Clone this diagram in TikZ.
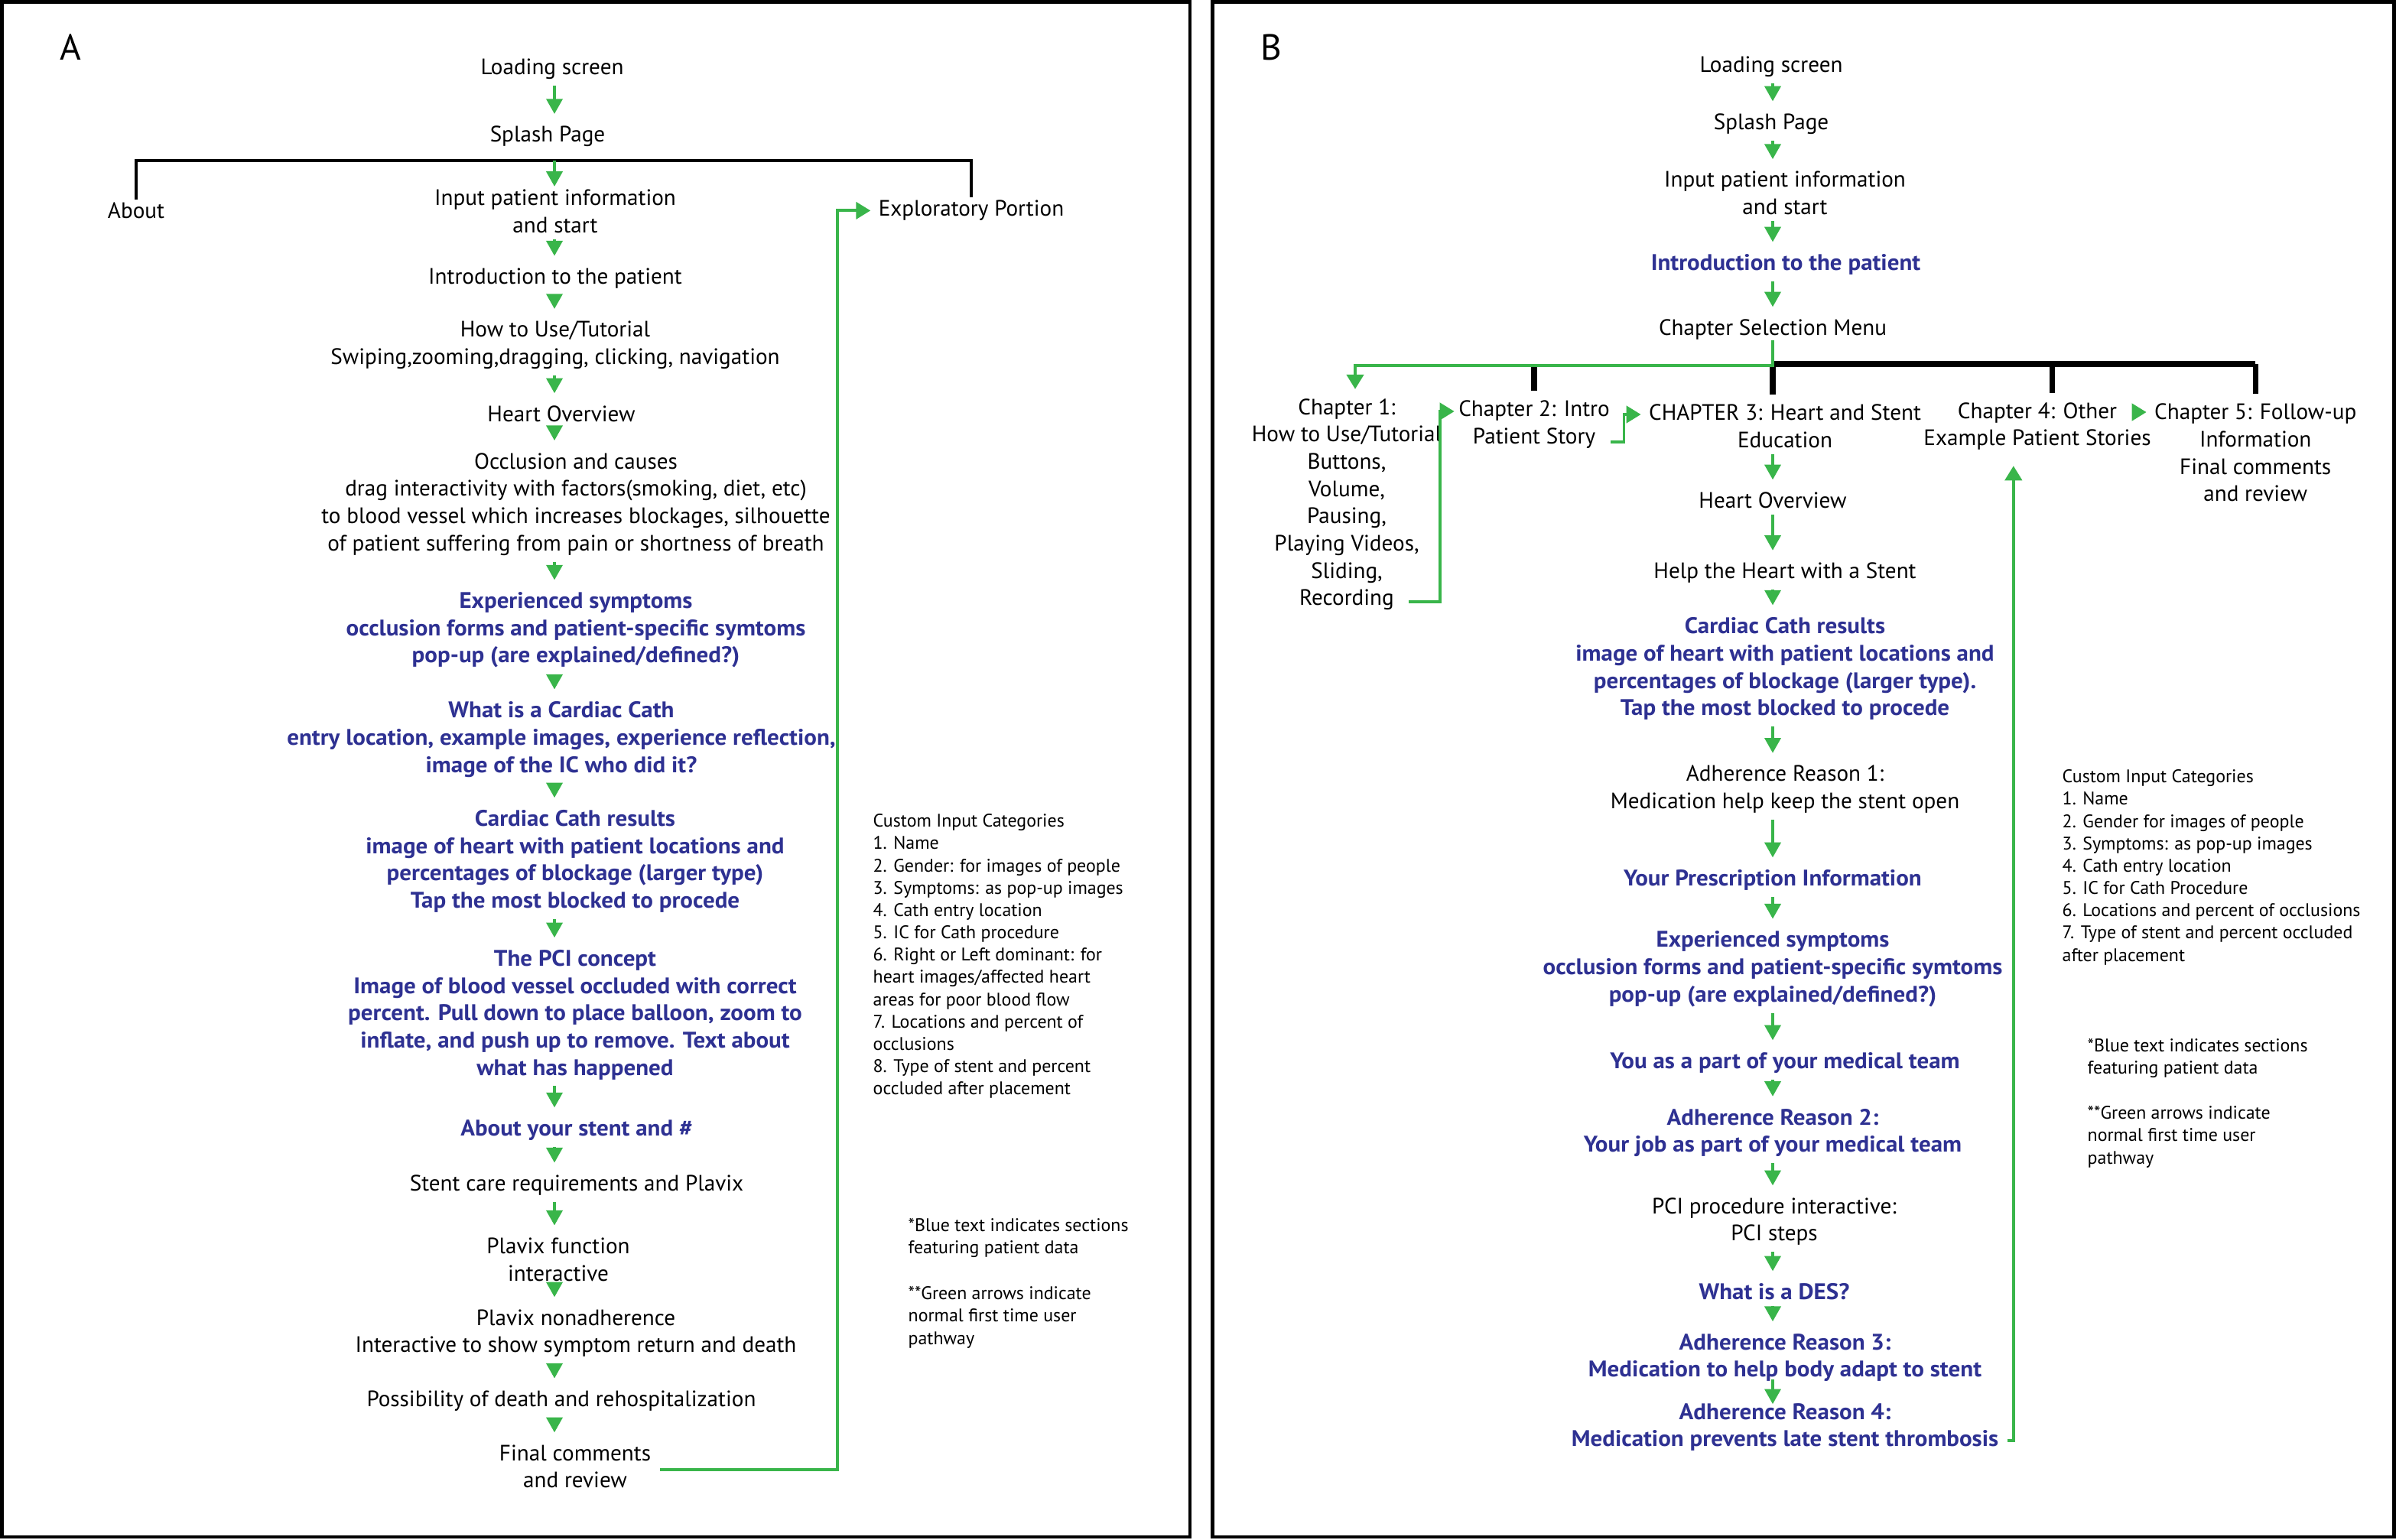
\documentclass[tikz,border=0pt]{standalone}
\usepackage{fontspec}
\setmainfont{PT Sans}[BoldFeatures={FakeStretch=1.05}]
\usetikzlibrary{arrows.meta,calc}
\definecolor{dblue}{HTML}{2E3192}
\definecolor{agreen}{HTML}{39B54A}
\begin{document}
\begin{tikzpicture}[x=0.02cm,y=-0.02cm,
  txt/.style={font=\fontsize{8.3}{10.15}\selectfont,align=center,inner sep=0pt},
  btxt/.style={font=\fontsize{8.4}{10.15}\selectfont\bfseries,text=dblue,align=center,inner sep=0pt},
  small/.style={font=\fontsize{6.8}{8.3}\selectfont,align=left,inner sep=0pt,anchor=north west},
  panel/.style={font=\fontsize{13.5}{16}\selectfont,inner sep=0pt},
  arr/.style={draw=agreen,line width=1pt,-{Triangle[width=6pt,length=5.6pt]},shorten <=2.2pt,shorten >=4.4pt},
  garr/.style={draw=agreen,line width=1.1pt,-{Triangle[width=6.3pt,length=5.4pt]},shorten >=1.4pt},
  frame/.style={draw=black,line width=1.4pt},
  brkA/.style={draw=black,line width=1.25pt},
  brkB/.style={draw=black,line width=2.1pt},
]
\useasboundingbox (0,0) rectangle (1566.5,1006.5);
% frames
\draw[frame] (1.2,1.2) rectangle (778,1005);
\draw[frame] (792.7,1.2) rectangle (1565.3,1005);
\node[panel] (labA) at (46,30.8) {A};
\node[panel] (labB) at (831,30.8) {B};

% ---------------- Panel A ----------------
\coordinate (axA) at (362.5,0);
\node[txt] (A1) at (361,45.3) {Loading screen};
\node[txt] (A2) at (358,89.3) {Splash Page};
\node[txt] (About) at (89,137.7) {About};
\node[txt] (Expl) at (635,137.7) {Exploratory Portion};
\node[txt] (A3) at (363,138.2) {Input patient information\\and start};
\node[txt] (A4) at (363,182) {Introduction to the patient};
\node[txt] (A5) at (363,225.7) {How to Use/Tutorial\\Swiping,zooming,dragging, clicking, navigation};
\node[txt] (A6) at (367,270.5) {Heart Overview};
\node[txt] (A7) at (376.5,329.6) {Occlusion and causes\\drag interactivity with factors(smoking, diet, etc)\\to blood vessel which increases blockages, silhouette\\of patient suffering from pain or shortness of breath};
\node[btxt] (A8) at (376.5,412) {Experienced symptoms\\occlusion forms and patient-specific symtoms\\pop-up (are explained/defined?)};
\node[btxt] (A9) at (367,483.5) {What is a Cardiac Cath\\entry location, example images, experience reflection,\\image of the IC who did it?};
\node[btxt] (A10) at (376,563.2) {Cardiac Cath results\\image of heart with patient locations and\\percentages of blockage (larger type)\\Tap the most blocked to procede};
\node[btxt] (A11) at (376,663.6) {The PCI concept\\Image of blood vessel occluded with correct\\percent. Pull down to place balloon, zoom to\\inflate, and push up to remove. Text about\\what has happened};
\node[btxt] (A12) at (377,739) {About your stent and \#};
\node[txt] (A13) at (377,775) {Stent care requirements and Plavix};
\node[txt] (A14) at (365,823.5) {Plavix function\\interactive};
\node[txt] (A15) at (376.5,871.8) {Plavix nonadherence\\Interactive to show symptom return and death};
\node[txt] (A16) at (367,916) {Possibility of death and rehospitalization};
\node[txt] (A17) at (376,958.9) {Final comments\\and review};

\node[small] (CatA) at (570.5,532) {Custom Input Categories\\1. Name\\2. Gender: for images of people\\3. Symptoms: as pop-up images\\4. Cath entry location\\5. IC for Cath procedure\\6. Right or Left dominant: for\\heart images/affected heart\\areas for poor blood flow\\7. Locations and percent of\\occlusions\\8. Type of stent and percent\\occluded after placement};
\node[small] (NoteA1) at (593.5,796.5) {*Blue text indicates sections\\featuring patient data};
\node[small] (NoteA2) at (593.5,841) {**Green arrows indicate\\normal first time user\\pathway};

% bracket
\coordinate (bk) at (362.5,105);
\draw[brkA] ([yshift=1pt]About.north) -- (About.north |- bk) -- (bk -| Expl.north) -- ([yshift=1pt]Expl.north);
\draw[arr,shorten <=0pt,shorten >=1pt] (bk) -- (A3.north -| bk);

\foreach \a/\b in {A1/A2,A3/A4,A4/A5,A5/A6,A6/A7,A7/A8,A8/A9,A9/A10,A10/A11,A11/A12,A12/A13,A13/A14,A14/A15,A15/A16,A16/A17}
  \draw[arr] (\a.south -| axA) -- (\b.north -| axA);

\draw[garr,shorten >=2.8pt] ($(A17.east)+(5.5,2)$) -| ($(Expl.west)+(-26.5,0)$) -- (Expl.west);

% ---------------- Panel B ----------------
\coordinate (axB) at (1159,0);
\node[txt] (B1) at (1158,43.5) {Loading screen};
\node[txt] (B2) at (1158,81) {Splash Page};
\node[txt] (B3) at (1167,126.3) {Input patient information\\and start};
\node[btxt] (B4) at (1167.5,173) {Introduction to the patient};
\node[txt] (B5) at (1159,215.4) {Chapter Selection Menu};
\node[txt] (C1) at (880.5,329.9) {Chapter 1:\\How to Use/Tutorial\\Buttons,\\Volume,\\Pausing,\\Playing Videos,\\Sliding,\\Recording};
\node[txt] (C2) at (1003,277.5) {Chapter 2: Intro\\Patient Story};
\node[txt] (C3) at (1167,278.7) {CHAPTER 3: Heart and Stent\\Education};
\node[txt] (C4) at (1332,278.7) {Chapter 4: Other\\Example Patient Stories};
\node[txt] (C5) at (1474.6,296) {Chapter 5: Follow-up\\Information\\Final comments\\and review};
\node[txt] (B6) at (1159,327) {Heart Overview};
\node[txt] (B7) at (1167,374.6) {Help the Heart with a Stent};
\node[btxt] (B8) at (1167,437.3) {Cardiac Cath results\\image of heart with patient locations and\\percentages of blockage (larger type).\\Tap the most blocked to procede};
\node[txt] (B9) at (1167,516) {Adherence Reason 1:\\Medication help keep the stent open};
\node[btxt] (B10) at (1159,575.5) {Your Prescription Information};
\node[btxt] (B11) at (1159,633.6) {Experienced symptoms\\occlusion forms and patient-specific symtoms\\pop-up (are explained/defined?)};
\node[btxt] (B12) at (1167,695) {You as a part of your medical team};
\node[btxt] (B13) at (1159,740.7) {Adherence Reason 2:\\Your job as part of your medical team};
\node[txt] (B14) at (1160,798.8) {PCI procedure interactive:\\PCI steps};
\node[btxt] (B15) at (1160,844.6) {What is a DES?};
\node[btxt] (B16) at (1167,887.8) {Adherence Reason 3:\\Medication to help body adapt to stent};
\node[btxt] (B17) at (1167,933.2) {Adherence Reason 4:\\Medication prevents late stent thrombosis};

\node[small] (CatB) at (1348,503) {Custom Input Categories\\1. Name\\2. Gender for images of people\\3. Symptoms: as pop-up images\\4. Cath entry location\\5. IC for Cath Procedure\\6. Locations and percent of occlusions\\7. Type of stent and percent occluded\\after placement};
\node[small] (NoteB1) at (1364.5,679) {*Blue text indicates sections\\featuring patient data};
\node[small] (NoteB2) at (1364.5,723) {**Green arrows indicate\\normal first time user\\pathway};

\foreach \a/\b in {B1/B2,B2/B3,B3/B4,B4/B5,C3/B6,B6/B7,B7/B8,B8/B9,B9/B10,B10/B11,B11/B12,B12/B13,B13/B14,B14/B15,B15/B16}
  \draw[arr] (\a.south -| axB) -- (\b.north -| axB);
\draw[arr,shorten <=-1pt,shorten >=-0.5pt] (B16.south -| axB) -- (B17.north -| axB);

% chapter selection tree
\coordinate (hub) at (1159,238);
\draw[brkB] (hub) -- (hub -| C5.north);
\draw[brkB] (hub -| C2.north) -- ($(C2.north)+(0,-6)$);
\draw[brkB] (hub) -- ($(hub |- C3.north)+(0,-6)$);
\draw[brkB] ($(hub -| C4.north)+(9.6,0)$) -- ($(C4.north)+(9.6,-6)$);
\draw[brkB] (hub -| C5.north) -- ($(C5.north)+(0,-6)$);
\draw[garr,shorten >=3.4pt] (B5.south -| hub) -- ($(hub)+(0,1.2)$) -| ($(C1.north)+(5.5,0)$);

% chapter links
\coordinate (c12s) at ($(C1.south east)+(-22,-6)$);
\coordinate (c12e) at ($(C2.west)+(0,-8.5)$);
\draw[garr] (c12s) -| ($(c12e)+(-12,0)$) -- (c12e);
\coordinate (c23s) at ($(C2.east)+(0.5,11.5)$);
\coordinate (c23e) at ($(C3.west)+(0,-7.7)$);
\draw[garr,shorten >=2.8pt] (c23s) -| ($(c23e)+(-16,0)$) -- (c23e);
\coordinate (c45) at ($(C4.east)+(-12,-9.2)$);
\draw[garr,shorten >=2.8pt] (c45) -- (c45 -| C5.west);
\draw[garr,shorten >=5.7pt] ($(B17.east)+(5.5,8.6)$) -| ($(C4.south)+(-15.6,0)$);
\end{tikzpicture}
\end{document}
